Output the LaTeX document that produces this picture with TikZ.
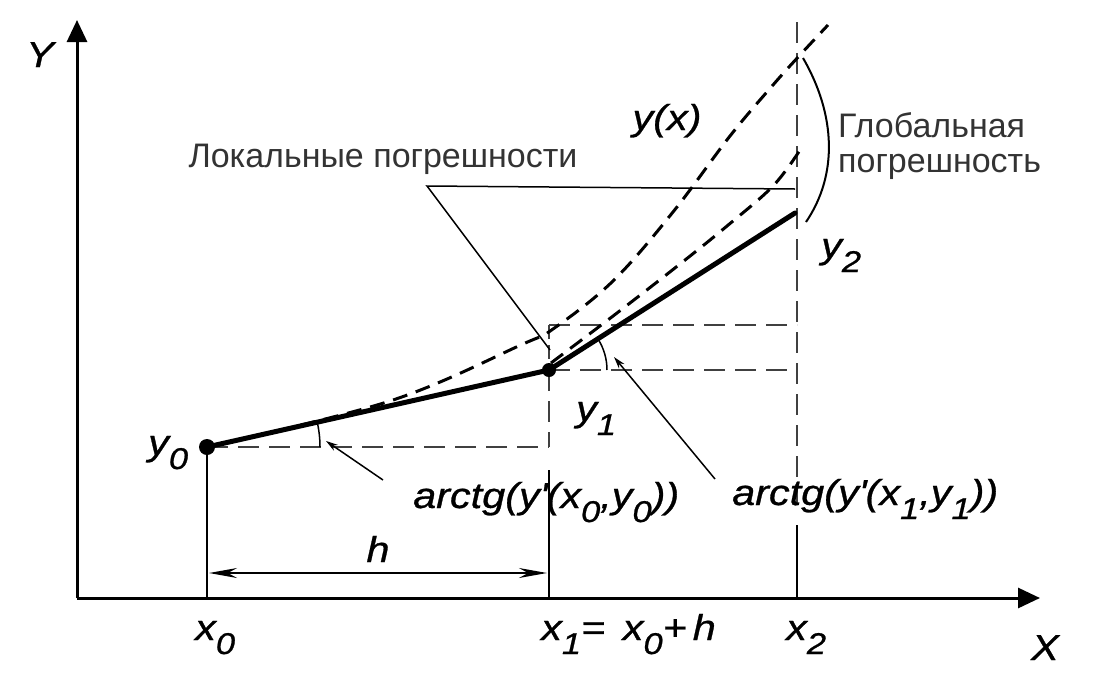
\documentclass[tikz,border=0pt]{standalone}
\usepackage{fontspec}
\setmainfont{Liberation Sans}
\newfontfamily\lblfont[FakeStretch=1.15,FakeBold=0.8]{Liberation Sans}
\usetikzlibrary{arrows.meta}
\newcommand\sbx[1]{\raisebox{-14pt}{\fontsize{30}{30}\selectfont #1}}
\begin{document}
\begin{tikzpicture}[x=1pt,y=-1pt,
  axis/.style={line width=3pt,-{Triangle[length=22pt,width=20pt]}},
  guide/.style={line width=2.4pt, draw=black!75, dash pattern=on 21pt off 10pt},
  curve/.style={line width=3pt, dash pattern=on 15pt off 9pt},
  euler/.style={line width=5pt, line cap=round, line join=round},
  thin/.style={line width=1.5pt},
  lbl/.style={font=\lblfont\itshape\fontsize{36}{40}\selectfont, inner sep=0pt},
  txt/.style={font=\fontsize{34}{40}\selectfont, text=black!80, inner sep=0pt},
]
\useasboundingbox (0,0) rectangle (1112,686);
% axes
\coordinate (O) at (77,598);
\coordinate (Ytop) at (77,20);
\coordinate (Xend) at (1040,598);
\draw[axis] (O) -- (Ytop);
\draw[axis] (O) -- (Xend);
% key points
\coordinate (P0) at (207,447);
\coordinate (P1) at (549,370);
\coordinate (P2) at (795,213);
\coordinate (Q0) at (549,447);
\coordinate (Q1) at (797,370);
\coordinate (E1) at (549,325);
\coordinate (E1b) at (549,362);
\coordinate (E2) at (797,325);
\coordinate (X0) at (207,598);
\coordinate (X1) at (549,598);
\coordinate (X1s) at (549,470);
\coordinate (X2) at (797,598);
\coordinate (X2s) at (797,525);
\coordinate (X2t) at (797,22);
\coordinate (X2d) at (797,505);
% verticals
\draw[thin, line width=2pt] (P0) -- (X0);
\draw[guide] (P1) -- (Q0);
\draw[thin, line width=2pt] (X1s) -- (X1);
\draw[guide] (X2t) -- (X2d);
\draw[thin, line width=2pt] (X2s) -- (X2);
% horizontal guides
\draw[guide] (P0) -- (Q0);
\draw[guide] (P1) -- (Q1);
\draw[guide] (E1) -- (E2);
\draw[guide, dash pattern=on 14pt off 6pt] (E1) -- (E1b);
% exact solution y(x)
\draw[curve] plot[smooth, tension=0.6] coordinates {(207,447) (390,401) (523,344) (553,329) (613,281) (673,212) (730,136) (773,85) (800,55) (828,25)};
% local solution from (x1,y1)
\draw[curve] plot[smooth, tension=0.6] coordinates {(551,363) (617,313) (680,264) (727,226) (773,186) (800,150)};
% Euler polyline
\draw[euler] (P0) -- (P1) -- (P2);
\fill (P0) circle (8pt);
\fill (P1) circle (7pt);
% angle arcs
\draw[thin] ([shift={(113pt,0pt)}]P0) arc[start angle=0,end angle=12.7,radius=113pt];
\draw[thin] ([shift={(58pt,0pt)}]P1) arc[start angle=0,end angle=32.5,radius=58pt];
\coordinate (A0s) at (383,480);
\coordinate (A0e) at (326,441);
\coordinate (A1s) at (715,479);
\coordinate (A1e) at (614,357);
\draw[thin,-{Stealth[length=12pt,width=7pt]}] (A0s) -- (A0e);
\draw[thin,-{Stealth[length=12pt,width=7pt]}] (A1s) -- (A1e);
% local error leader
\coordinate (L1) at (427,186);
\coordinate (L2) at (795,189);
\coordinate (L3) at (550,350);
\draw[thin] (L3) -- (L1) -- (L2);
% global error brace
\coordinate (G1) at (803,58);
\coordinate (G2) at (806,222);
\draw[line width=2pt] (G1) .. controls (836,115) and (838,175) .. (G2);
% h dimension
\coordinate (H0) at (209,573);
\coordinate (H1) at (547,573);
\draw[thin, line width=2pt, {Stealth[length=28pt,width=10pt]}-{Stealth[length=28pt,width=10pt]}] (H0) -- (H1);
% labels
\node[lbl, anchor=base] (Ylab) at (40,67) {Y};
\node[lbl, anchor=base] (Xlab) at (1045,660) {X};
\node[lbl, anchor=base west] (x0lab) at (195,640) {x\sbx{0}};
\node[lbl, anchor=base west] (x1lab) at (541,640) {x\sbx{1}= \,x\sbx{0}+\,h};
\node[lbl, anchor=base west] (x2lab) at (786,640) {x\sbx{2}};
\node[lbl, anchor=base west] (y0lab) at (148,455) {y\sbx{0}};
\node[lbl, anchor=base west] (y1lab) at (576,421) {y\sbx{1}};
\node[lbl, anchor=base west] (y2lab) at (821,258) {y\sbx{2}};
\node[lbl, anchor=base] (yxlab) at (667,130) {y(x)};
\node[lbl, anchor=base] (hlab) at (378,562) {h};
\node[lbl, anchor=base west] (a0lab) at (413,508) {arctg(y\textquotesingle(x\sbx{0},y\sbx{0}))};
\node[lbl, anchor=base west] (a1lab) at (732,505) {arctg(y\textquotesingle(x\sbx{1},y\sbx{1}))};
\node[txt, anchor=base] (loc) at (383,167) {Локальные погрешности};
\node[txt, anchor=base west] (glob1) at (838,137) {Глобальная};
\node[txt, anchor=base west] (glob2) at (838,172) {погрешность};
\end{tikzpicture}
\end{document}
